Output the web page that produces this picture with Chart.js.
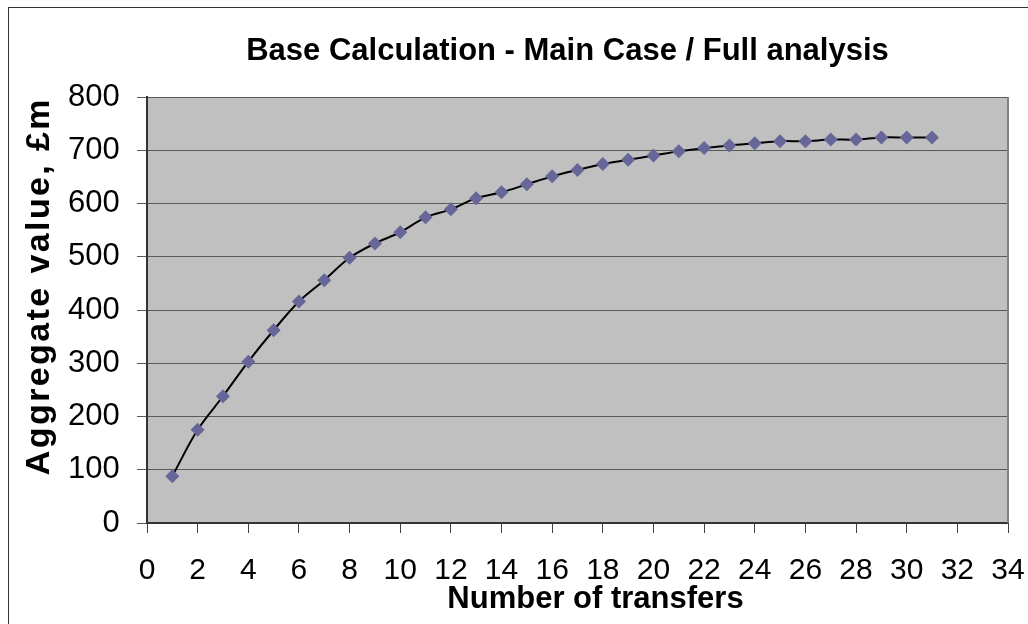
<!DOCTYPE html>
<html>
<head>
<meta charset="utf-8">
<script src="https://cdn.jsdelivr.net/npm/chart.js@4/dist/chart.umd.min.js"></script>
<style>
  html, body { margin: 0; padding: 0; background: #ffffff; }
  canvas { display: block; }
</style>
</head>
<body>
<canvas id="chart" width="1028" height="624"></canvas>
<script>
// ---- data ----
const transfers = [1, 2, 3, 4, 5, 6, 7, 8, 9, 10, 11, 12, 13, 14, 15, 16, 17, 18, 19, 20, 21, 22, 23, 24, 25, 26, 27, 28, 29, 30, 31];
const aggregateValue = [88, 175, 238, 303, 362, 416, 456, 498, 525, 546, 574, 589, 610, 621, 636, 651, 663, 674, 682, 690, 698, 704, 709, 713, 717, 717, 720, 720, 724, 724, 724];
const xTickValues = [0, 2, 4, 6, 8, 10, 12, 14, 16, 18, 20, 22, 24, 26, 28, 30, 32, 34];
const yTickValues = [0, 100, 200, 300, 400, 500, 600, 700, 800];
const chartTitle = 'Base Calculation - Main Case / Full analysis';
const xAxisTitle = 'Number of transfers';
const yAxisTitle = 'Aggregate value, £m';

const FONT = "'Liberation Sans', Arial, Helvetica, sans-serif";
Chart.defaults.font.family = FONT;
Chart.defaults.color = '#000000';

const frameAndPlotBg = {
  id: 'frameAndPlotBg',
  beforeDraw(chart) {
    const { ctx, chartArea: a } = chart;
    ctx.save();
    ctx.fillStyle = '#ffffff';
    ctx.fillRect(0, 0, chart.width, chart.height);
    ctx.strokeStyle = '#333333';
    ctx.lineWidth = 1;
    ctx.strokeRect(8.5, 7.5, chart.width + 20, chart.height + 20);
    ctx.fillStyle = '#c0c0c0';
    ctx.fillRect(a.left, a.top, a.right - a.left, a.bottom - a.top);
    ctx.restore();
  },
  beforeDatasetsDraw(chart) {
    const { ctx, chartArea: a } = chart;
    ctx.save();
    ctx.strokeStyle = '#808080';
    ctx.lineWidth = 2;
    ctx.beginPath();
    ctx.moveTo(a.right, a.top);
    ctx.lineTo(a.right, a.bottom);
    ctx.stroke();
    ctx.restore();
  }
};

// small typographic adjustments of the axis titles (spacing / horizontal shift)
const axisTitleTweaks = {
  id: 'axisTitleTweaks',
  afterLayout(chart) {
    const xs = chart.scales.x, ys = chart.scales.y;
    if (xs && !xs.__tw) {
      const orig = xs.drawTitle;
      xs.drawTitle = function () {
        const c = this.ctx; c.save(); c.translate(18, 0); orig.call(this); c.restore();
      };
      xs.__tw = true;
    }
    if (ys && !ys.__tw) {
      const orig = ys.drawTitle;
      ys.drawTitle = function () {
        const c = this.ctx; c.save(); c.letterSpacing = '2.4px'; orig.call(this); c.restore();
      };
      ys.__tw = true;
    }
  }
};

new Chart(document.getElementById('chart'), {
  type: 'scatter',
  data: {
    datasets: [{
      data: transfers.map((x, i) => ({ x: x, y: aggregateValue[i] })),
      showLine: true,
      borderColor: '#000000',
      borderWidth: 2,
      tension: 0.35,
      pointStyle: 'rectRot',
      pointRadius: 7,
      pointHoverRadius: 7,
      pointBackgroundColor: '#666699',
      pointBorderWidth: 0
    }]
  },
  options: {
    responsive: false,
    animation: false,
    devicePixelRatio: 1,
    events: [],
    layout: { padding: { left: 127, right: 20, top: 0, bottom: 0 } },
    plugins: {
      legend: { display: false },
      tooltip: { enabled: false },
      title: {
        display: true,
        text: chartTitle,
        color: '#000000',
        font: { family: FONT, size: 31, weight: 'bold', lineHeight: 1.2 },
        padding: { top: 33, bottom: 26.8 }
      }
    },
    scales: {
      x: {
        type: 'linear',
        min: 0,
        max: 34,
        afterBuildTicks: s => { s.ticks = xTickValues.map(v => ({ value: v })); },
        afterFit: s => { s.height = 101; },
        grid: { display: true, drawOnChartArea: false, drawTicks: true, tickLength: 10, color: '#404040', lineWidth: 1 },
        border: { display: true, color: '#333333', width: 2 },
        ticks: { font: { size: 30, lineHeight: '76px' }, padding: 0, maxRotation: 0, autoSkip: false, color: '#000000' },
        title: { display: true, text: xAxisTitle, color: '#000000', font: { size: 31, weight: 'bold', lineHeight: 1.2 }, padding: { top: 0, bottom: 6.4 } }
      },
      y: {
        type: 'linear',
        min: 0,
        max: 800,
        afterBuildTicks: s => { s.ticks = yTickValues.map(v => ({ value: v })); },
        afterFit: s => { s.width = 20; },
        grid: { display: true, drawTicks: true, tickLength: 10, color: '#5a5a5a', lineWidth: 1 },
        border: { display: true, color: '#333333', width: 2 },
        ticks: { font: { size: 31 }, mirror: true, crossAlign: 'far', padding: -79, color: '#000000' },
        title: { display: true, text: yAxisTitle, align: 'end', color: '#000000', font: { size: 34, weight: 'bold', lineHeight: 1.2 }, padding: { top: -107.4, bottom: 0 } }
      }
    }
  },
  plugins: [frameAndPlotBg, axisTitleTweaks]
});
</script>
</body>
</html>
